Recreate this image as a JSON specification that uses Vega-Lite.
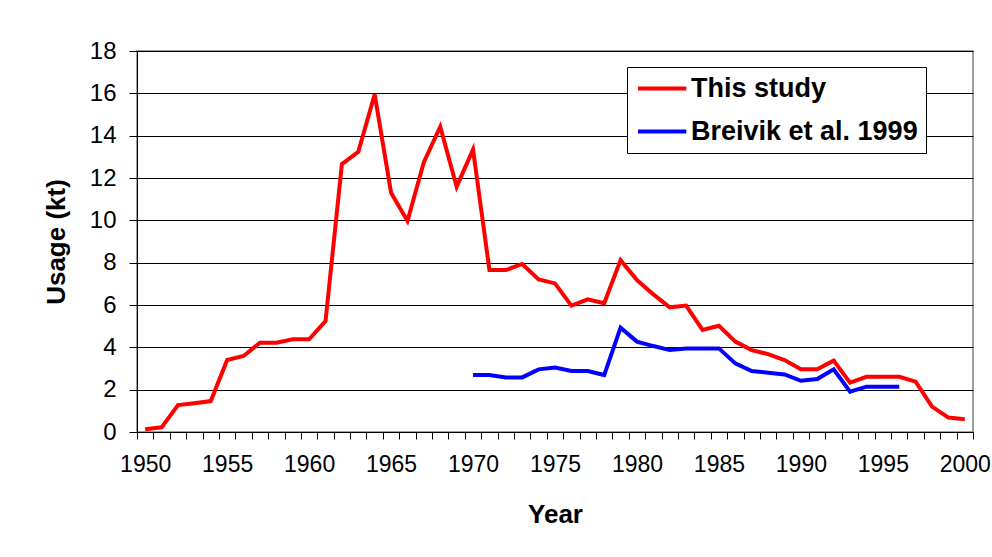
{
  "$schema": "https://vega.github.io/schema/vega-lite/v6.json",
  "autosize": {"type": "none"},
  "padding": {"left": 137, "top": 51, "right": 19, "bottom": 125},
  "width": 836,
  "height": 381,
  "background": "white",
  "config": {
    "font": "Liberation Sans",
    "view": {"stroke": "#808080", "strokeWidth": 1.5}
  },
  "data": {
    "values": [
      {"year": 1950, "series": "This study", "usage": 0.13},
      {"year": 1951, "series": "This study", "usage": 0.22},
      {"year": 1952, "series": "This study", "usage": 1.27},
      {"year": 1953, "series": "This study", "usage": 1.36},
      {"year": 1954, "series": "This study", "usage": 1.46},
      {"year": 1955, "series": "This study", "usage": 3.4},
      {"year": 1956, "series": "This study", "usage": 3.59},
      {"year": 1957, "series": "This study", "usage": 4.22},
      {"year": 1958, "series": "This study", "usage": 4.22},
      {"year": 1959, "series": "This study", "usage": 4.38},
      {"year": 1960, "series": "This study", "usage": 4.38},
      {"year": 1961, "series": "This study", "usage": 5.24},
      {"year": 1962, "series": "This study", "usage": 12.66},
      {"year": 1963, "series": "This study", "usage": 13.24},
      {"year": 1964, "series": "This study", "usage": 15.95},
      {"year": 1965, "series": "This study", "usage": 11.3},
      {"year": 1966, "series": "This study", "usage": 9.97},
      {"year": 1967, "series": "This study", "usage": 12.75},
      {"year": 1968, "series": "This study", "usage": 14.42},
      {"year": 1969, "series": "This study", "usage": 11.59},
      {"year": 1970, "series": "This study", "usage": 13.35},
      {"year": 1971, "series": "This study", "usage": 7.65},
      {"year": 1972, "series": "This study", "usage": 7.65},
      {"year": 1973, "series": "This study", "usage": 7.94},
      {"year": 1974, "series": "This study", "usage": 7.21},
      {"year": 1975, "series": "This study", "usage": 7.02},
      {"year": 1976, "series": "This study", "usage": 5.97},
      {"year": 1977, "series": "This study", "usage": 6.27},
      {"year": 1978, "series": "This study", "usage": 6.08},
      {"year": 1979, "series": "This study", "usage": 8.12},
      {"year": 1980, "series": "This study", "usage": 7.18},
      {"year": 1981, "series": "This study", "usage": 6.5},
      {"year": 1982, "series": "This study", "usage": 5.89},
      {"year": 1983, "series": "This study", "usage": 5.97},
      {"year": 1984, "series": "This study", "usage": 4.82},
      {"year": 1985, "series": "This study", "usage": 5.02},
      {"year": 1986, "series": "This study", "usage": 4.27},
      {"year": 1987, "series": "This study", "usage": 3.87},
      {"year": 1988, "series": "This study", "usage": 3.68},
      {"year": 1989, "series": "This study", "usage": 3.4},
      {"year": 1990, "series": "This study", "usage": 2.96},
      {"year": 1991, "series": "This study", "usage": 2.96},
      {"year": 1992, "series": "This study", "usage": 3.37},
      {"year": 1993, "series": "This study", "usage": 2.33},
      {"year": 1994, "series": "This study", "usage": 2.61},
      {"year": 1995, "series": "This study", "usage": 2.61},
      {"year": 1996, "series": "This study", "usage": 2.61},
      {"year": 1997, "series": "This study", "usage": 2.38},
      {"year": 1998, "series": "This study", "usage": 1.2},
      {"year": 1999, "series": "This study", "usage": 0.68},
      {"year": 2000, "series": "This study", "usage": 0.6},
      {"year": 1970, "series": "Breivik et al. 1999", "usage": 2.69},
      {"year": 1971, "series": "Breivik et al. 1999", "usage": 2.69},
      {"year": 1972, "series": "Breivik et al. 1999", "usage": 2.58},
      {"year": 1973, "series": "Breivik et al. 1999", "usage": 2.58},
      {"year": 1974, "series": "Breivik et al. 1999", "usage": 2.96},
      {"year": 1975, "series": "Breivik et al. 1999", "usage": 3.05},
      {"year": 1976, "series": "Breivik et al. 1999", "usage": 2.88},
      {"year": 1977, "series": "Breivik et al. 1999", "usage": 2.88},
      {"year": 1978, "series": "Breivik et al. 1999", "usage": 2.69},
      {"year": 1979, "series": "Breivik et al. 1999", "usage": 4.93},
      {"year": 1980, "series": "Breivik et al. 1999", "usage": 4.27},
      {"year": 1981, "series": "Breivik et al. 1999", "usage": 4.06},
      {"year": 1982, "series": "Breivik et al. 1999", "usage": 3.87},
      {"year": 1983, "series": "Breivik et al. 1999", "usage": 3.95},
      {"year": 1984, "series": "Breivik et al. 1999", "usage": 3.95},
      {"year": 1985, "series": "Breivik et al. 1999", "usage": 3.95},
      {"year": 1986, "series": "Breivik et al. 1999", "usage": 3.24},
      {"year": 1987, "series": "Breivik et al. 1999", "usage": 2.88},
      {"year": 1988, "series": "Breivik et al. 1999", "usage": 2.8},
      {"year": 1989, "series": "Breivik et al. 1999", "usage": 2.72},
      {"year": 1990, "series": "Breivik et al. 1999", "usage": 2.42},
      {"year": 1991, "series": "Breivik et al. 1999", "usage": 2.5},
      {"year": 1992, "series": "Breivik et al. 1999", "usage": 2.96},
      {"year": 1993, "series": "Breivik et al. 1999", "usage": 1.9},
      {"year": 1994, "series": "Breivik et al. 1999", "usage": 2.14},
      {"year": 1995, "series": "Breivik et al. 1999", "usage": 2.14},
      {"year": 1996, "series": "Breivik et al. 1999", "usage": 2.14}
    ]
  },
  "mark": {"type": "line", "strokeWidth": 4, "strokeJoin": "miter"},
  "encoding": {
    "x": {
      "field": "year",
      "type": "ordinal",
      "bandPosition": 0.5,
      "scale": {"type": "band", "paddingInner": 0, "paddingOuter": 0},
      "axis": {
        "title": "Year",
        "titleFont": "Liberation Sans",
        "titleFontSize": 26,
        "titleFontWeight": "bold",
        "titleColor": "#000",
        "titlePadding": 25,
        "labelAngle": 0,
        "labelExpr": "datum.value % 5 === 0 ? datum.label : ''",
        "labelFontSize": 23,
        "labelColor": "#000",
        "labelPadding": 14,
        "labelOverlap": false,
        "tickBand": "extent",
        "tickSize": 7,
        "tickColor": "#000",
        "domainColor": "#000",
        "grid": false
      }
    },
    "y": {
      "field": "usage",
      "type": "quantitative",
      "scale": {"domain": [0, 18], "nice": false},
      "axis": {
        "title": "Usage (kt)",
        "titleFont": "Liberation Sans",
        "titleFontSize": 26,
        "titleFontWeight": "bold",
        "titleColor": "#000",
        "titlePadding": 20,
        "values": [0, 2, 4, 6, 8, 10, 12, 14, 16, 18],
        "labelFontSize": 24,
        "labelColor": "#000",
        "labelPadding": 13,
        "tickSize": 8,
        "tickColor": "#000",
        "domainColor": "#000",
        "grid": true,
        "gridColor": "#000",
        "gridWidth": 1
      }
    },
    "color": {
      "field": "series",
      "type": "nominal",
      "scale": {"domain": ["This study", "Breivik et al. 1999"], "range": ["#ff0000", "#0000ff"]},
      "legend": {
        "title": null,
        "orient": "none",
        "legendX": 490,
        "legendY": 16,
        "symbolType": "M-1,0H3.6",
        "symbolSize": 441,
        "symbolStrokeWidth": 4,
        "labelFontSize": 27,
        "labelFontWeight": "bold",
        "labelColor": "#000",
        "labelOffset": 29,
        "rowPadding": 15,
        "padding": 8,
        "strokeColor": "#000",
        "fillColor": "#fff",
        "labelLimit": 400
      }
    }
  }
}
